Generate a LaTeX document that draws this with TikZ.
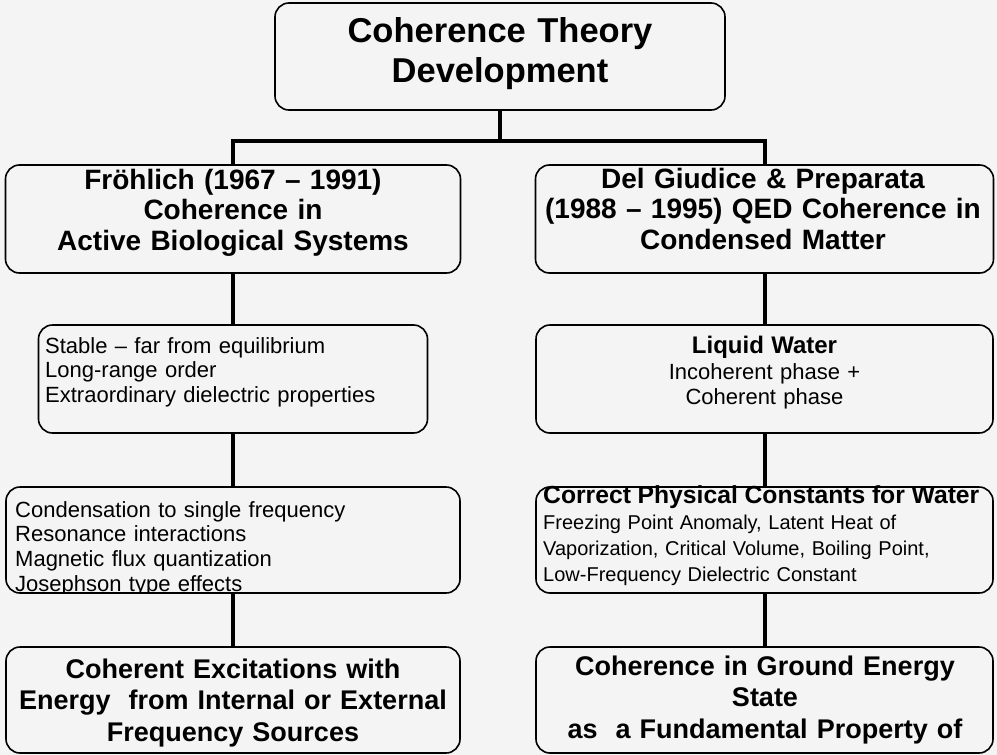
\documentclass[tikz,border=0pt]{standalone}
\usepackage{fontspec}
\setmainfont{Liberation Sans}
\usetikzlibrary{calc}
\definecolor{paper}{RGB}{244,244,244}
\newcommand\titlesize{\fontsize{34.5}{40}\selectfont\bfseries}
\newcommand\headsize{\fontsize{28}{30.5}\selectfont\bfseries}
\newcommand\footsize{\fontsize{27}{31.5}\selectfont\bfseries}
\newcommand\listsize{\fontsize{22}{24.8}\selectfont}
\newcommand\notesize{\fontsize{20}{26}\selectfont}
\tikzset{
  panel/.style={draw, line width=1.6pt, rounded corners=14pt, inner sep=0pt, minimum height=107pt},
  ctext/.style={anchor=base, align=center, inner sep=0pt, text width=#1},
  ltext/.style={anchor=base west, align=left, inner sep=0pt, text width=#1},
  link/.style={line width=4pt},
}

\begin{document}
\begin{tikzpicture}[x=1pt,y=-1pt]
			%%%%% START %%%%%
			\fill[paper] (0,0) rectangle (997,755);
			\useasboundingbox (0,0) rectangle (997,755);
			
			\node[panel, minimum width=450pt] (title) at (500,56.5) {};
			\node[ctext=440pt, font=\titlesize] (titletxt) at (500,42) {Coherence Theory\\Development};
			
			% left column
			\node[panel, minimum width=455pt, minimum height=108pt] (fro) at (233,219) {};
			\node[ctext=445pt, font=\headsize] (frotxt) at (233,189) {Fröhlich (1967 – 1991)\\Coherence in\\Active Biological Systems};
			
			\node[panel, minimum width=389pt, minimum height=108pt] (stab) at (233,379) {};
			\node[ltext=375pt, font=\listsize] (stabtxt) at (45,353) {Stable – far from equilibrium\\Long-range order\\Extraordinary dielectric properties};
			
			\node[panel, minimum width=454pt, minimum height=106pt] (cond) at (233,540) {};
			\begin{scope}
				\clip[rounded corners=14pt] (cond.south west) rectangle (cond.north east);
				\node[ltext=440pt, font=\listsize] (condtxt) at (15,517) {Condensation to single frequency\\Resonance interactions\\Magnetic flux quantization\\Josephson type effects};
			\end{scope}
			
			\node[panel, minimum width=454pt, minimum height=106pt] (exc) at (233,700) {};
			\node[ctext=444pt, font=\footsize] (exctxt) at (233,678) {Coherent Excitations with\\Energy~ from Internal or External\\Frequency Sources};
			
			% right column
			\node[panel, minimum width=458pt, minimum height=108pt] (del) at (764.5,219) {};
			\node[ctext=448pt, font=\headsize] (deltxt) at (763,188) {Del Giudice \& Preparata\\(1988 – 1995) QED Coherence in\\Condensed Matter};
			
			\node[panel, minimum width=457pt, minimum height=108pt] (liq) at (764.5,379) {};
			\node[ctext=440pt, font=\listsize] (liqtxt) at (764.5,353) {{\fontsize{24}{27}\selectfont\bfseries Liquid Water}\\[2pt]Incoherent phase +\\Coherent phase};
			
			\node[panel, minimum width=457pt, minimum height=106pt] (cons) at (764.5,540) {};
			\node[ltext=445pt, font=\notesize] (constxt) at (543,503) {{\fontsize{24.7}{28}\selectfont\bfseries Correct Physical Constants for Water}\\Freezing Point Anomaly, Latent Heat of\\Vaporization, Critical Volume, Boiling Point,\\Low-Frequency Dielectric Constant};
			
			\node[panel, minimum width=457pt, minimum height=106pt] (gro) at (764.5,700) {};
			\node[ctext=445pt, font=\footsize] (grotxt) at (765,675) {Coherence in Ground Energy\\State\\as~ a Fundamental Property of};
			
			% connectors
			\coordinate (split) at ($(title.south)+(0,30)$);
			\draw[link] (title.south) -- (split);
			\draw[link] (fro.north) |- (split) -| (del.north);
			\draw[link] (fro.south) -- (stab.north);
			\draw[link] (stab.south) -- (cond.north);
			\draw[link] (cond.south) -- (exc.north);
			\draw[link] (del.south) -- (liq.north);
			\draw[link] (liq.south) -- (cons.north);
			\draw[link] (cons.south) -- (gro.north);
			%%%%% END %%%%%
\end{tikzpicture}
\end{document}
